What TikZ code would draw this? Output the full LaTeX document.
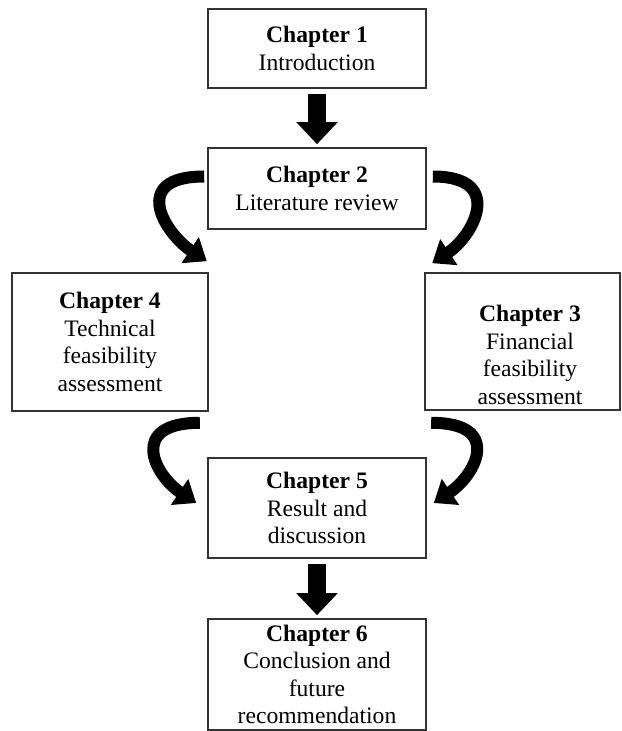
\documentclass[tikz,border=0pt]{standalone}
\usepackage{fontspec}
\setmainfont{Liberation Serif}
\usepackage{tikz}
\usetikzlibrary{arrows.meta,positioning,calc}

\newcommand{\chapfont}{\fontsize{11.8pt}{13.7pt}\selectfont}

\begin{document}
\begin{tikzpicture}[
    x=0.5pt, y=-0.5pt,
    chapbox/.style={rectangle, draw=black!80, line width=0.8pt, align=center, font=\chapfont, inner sep=0pt},
    midbox/.style={chapbox, minimum width=109pt},
    chaptext/.style={align=center, font=\chapfont, inner sep=0pt},
    bigarrow/.style={line width=9pt, -{Triangle[length=11pt, width=20pt]}, shorten <=2.5pt, shorten >=1.5pt},
    curvearrow/.style={line width=6pt, -{Triangle[length=10pt, width=15pt]}}
]
\useasboundingbox (0,0) rectangle (621,731);

% Chapter 1 and 2
\node[midbox, minimum height=39.5pt] (ch1) at (317,48.5) {\textbf{Chapter 1}\\Introduction};
\node[midbox, minimum height=40.5pt] (ch2) at (317,188.5) {\textbf{Chapter 2}\\Literature review};

% Chapter 4 and 3
\node[chapbox, minimum width=98pt, minimum height=69pt] (ch4) at (110,342) {\textbf{Chapter 4}\\Technical\\feasibility\\assessment};
\node[chapbox, minimum width=97.5pt, minimum height=68.5pt] (ch3box) at (522.5,341.5) {};
\node[chaptext] (ch3) at (530,355) {\textbf{Chapter 3}\\Financial\\feasibility\\assessment};

% Chapter 5 and 6
\node[midbox, minimum height=50pt] (ch5) at (317,508) {\textbf{Chapter 5}\\Result and\\discussion};
\node[midbox, minimum height=55.5pt] (ch6) at (317,674.5) {\textbf{Chapter 6}\\Conclusion and\\future\\recommendation};

% Arrows
\draw[bigarrow] (ch1) -- (ch2);
\draw[bigarrow] (ch5) -- (ch6);
\draw[curvearrow] ([shift={(-3,-12)}]ch2.west) .. controls +(-75,0) and +(-42,-28) .. ([shift={(-2,-11)}]ch4.north east);
\draw[curvearrow] ([shift={(6,-12)}]ch2.east) .. controls +(72,0) and +(42,-28) .. ([shift={(8,-9)}]ch3box.north west);
\draw[curvearrow] ([shift={(-9,11)}]ch4.south east) .. controls +(-72,0) and +(-42,-28) .. ([shift={(-11,-5)}]ch5.west);
\draw[curvearrow] ([shift={(7,12)}]ch3box.south west) .. controls +(72,0) and +(42,-28) .. ([shift={(7,-5)}]ch5.east);

\end{tikzpicture}
\end{document}
